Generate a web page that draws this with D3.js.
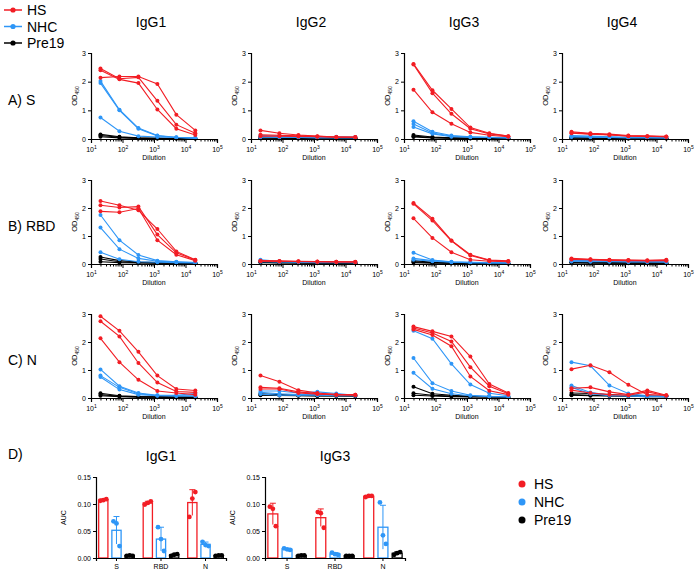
<!DOCTYPE html>
<html>
<head>
<meta charset="utf-8">
<script src="https://cdn.jsdelivr.net/npm/d3@7"></script>
<style>
  body { margin: 0; background: #fff; }
  svg { font-family: "Liberation Sans", Arial, Helvetica, sans-serif; }
</style>
</head>
<body>
<svg id="chart" width="700" height="579"></svg>
<script>
// dilution series (4-fold)
var dilutions = [20, 80, 320, 1280, 5120, 20480];
var isotypes = ["IgG1", "IgG2", "IgG3", "IgG4"];
var antigens = ["S", "RBD", "N"];
var rowLabels = ["A) S", "B) RBD", "C) N"];
var groups = ["HS", "NHC", "Pre19"];
var colors = ["#f21d24", "#2e96f7", "#000000"];

// OD450 curves, per panel: [HS lines, NHC lines, Pre19 lines]
var S_IgG1 = [
  [[2.14, 2.18, 2.18, 1.92, 0.85, 0.30], [2.46, 2.10, 2.15, 1.33, 0.50, 0.20], [2.40, 2.08, 1.95, 1.03, 0.36, 0.14]],
  [[2.02, 1.02, 0.38, 0.12, 0.06, 0.04], [1.95, 1.00, 0.36, 0.11, 0.05, 0.03], [0.75, 0.27, 0.10, 0.07, 0.05, 0.03]],
  [[0.16, 0.08, 0.04, 0.03, 0.02, 0.02], [0.12, 0.06, 0.03, 0.02, 0.02, 0.02], [0.08, 0.04, 0.02, 0.02, 0.02, 0.02]]
];
var S_IgG2 = [
  [[0.30, 0.20, 0.14, 0.10, 0.07, 0.07], [0.15, 0.13, 0.11, 0.09, 0.07, 0.06], [0.10, 0.10, 0.09, 0.08, 0.06, 0.06]],
  [[0.12, 0.10, 0.08, 0.07, 0.08, 0.07], [0.08, 0.07, 0.06, 0.05, 0.05, 0.05], [0.06, 0.05, 0.05, 0.04, 0.04, 0.04]],
  [[0.06, 0.04, 0.03, 0.03, 0.03, 0.03], [0.04, 0.03, 0.03, 0.02, 0.02, 0.02], [0.03, 0.03, 0.02, 0.02, 0.02, 0.02]]
];
var S_IgG3 = [
  [[2.62, 1.70, 1.05, 0.40, 0.20, 0.10], [2.60, 1.60, 0.88, 0.36, 0.18, 0.10], [1.72, 0.93, 0.53, 0.23, 0.13, 0.08]],
  [[0.62, 0.25, 0.12, 0.08, 0.06, 0.05], [0.52, 0.21, 0.10, 0.07, 0.05, 0.04], [0.42, 0.18, 0.08, 0.06, 0.05, 0.04]],
  [[0.14, 0.07, 0.04, 0.03, 0.03, 0.02], [0.10, 0.05, 0.03, 0.03, 0.02, 0.02], [0.07, 0.04, 0.03, 0.02, 0.02, 0.02]]
];
var S_IgG4 = [
  [[0.25, 0.20, 0.17, 0.12, 0.10, 0.09], [0.22, 0.18, 0.15, 0.10, 0.09, 0.08], [0.20, 0.17, 0.14, 0.11, 0.10, 0.08]],
  [[0.12, 0.10, 0.08, 0.06, 0.05, 0.05], [0.09, 0.08, 0.06, 0.05, 0.05, 0.04], [0.07, 0.06, 0.05, 0.04, 0.04, 0.04]],
  [[0.05, 0.04, 0.03, 0.03, 0.03, 0.03], [0.04, 0.03, 0.03, 0.02, 0.02, 0.02], [0.03, 0.03, 0.02, 0.02, 0.02, 0.02]]
];
var RBD_IgG1 = [
  [[2.25, 2.10, 1.92, 1.25, 0.45, 0.15], [2.10, 2.02, 2.05, 1.05, 0.40, 0.14], [1.88, 1.85, 1.98, 0.85, 0.33, 0.12]],
  [[1.75, 0.85, 0.32, 0.12, 0.08, 0.05], [1.30, 0.53, 0.20, 0.10, 0.07, 0.05], [0.42, 0.17, 0.08, 0.06, 0.05, 0.04]],
  [[0.25, 0.12, 0.07, 0.05, 0.04, 0.03], [0.18, 0.08, 0.05, 0.04, 0.03, 0.03], [0.08, 0.05, 0.04, 0.03, 0.03, 0.03]]
];
var RBD_IgG2 = [
  [[0.12, 0.11, 0.10, 0.09, 0.08, 0.08], [0.11, 0.10, 0.09, 0.08, 0.08, 0.07], [0.10, 0.09, 0.09, 0.08, 0.07, 0.07]],
  [[0.15, 0.10, 0.08, 0.07, 0.06, 0.06], [0.10, 0.08, 0.07, 0.06, 0.06, 0.05], [0.08, 0.07, 0.06, 0.05, 0.05, 0.05]],
  [[0.08, 0.06, 0.05, 0.04, 0.04, 0.04], [0.06, 0.05, 0.04, 0.04, 0.03, 0.03], [0.05, 0.04, 0.04, 0.03, 0.03, 0.03]]
];
var RBD_IgG3 = [
  [[2.18, 1.62, 0.84, 0.33, 0.14, 0.11], [2.15, 1.55, 0.83, 0.30, 0.13, 0.10], [1.63, 0.93, 0.42, 0.15, 0.10, 0.08]],
  [[0.40, 0.14, 0.08, 0.06, 0.05, 0.04], [0.20, 0.12, 0.07, 0.05, 0.05, 0.04], [0.15, 0.10, 0.06, 0.05, 0.04, 0.04]],
  [[0.12, 0.06, 0.04, 0.03, 0.03, 0.03], [0.08, 0.05, 0.03, 0.03, 0.03, 0.02], [0.05, 0.03, 0.03, 0.02, 0.02, 0.02]]
];
var RBD_IgG4 = [
  [[0.20, 0.17, 0.15, 0.14, 0.13, 0.15], [0.18, 0.16, 0.14, 0.13, 0.12, 0.13], [0.16, 0.15, 0.13, 0.12, 0.12, 0.12]],
  [[0.14, 0.12, 0.10, 0.09, 0.09, 0.08], [0.11, 0.10, 0.09, 0.08, 0.08, 0.07], [0.09, 0.08, 0.08, 0.07, 0.07, 0.07]],
  [[0.06, 0.05, 0.05, 0.04, 0.04, 0.04], [0.05, 0.04, 0.04, 0.04, 0.03, 0.03], [0.04, 0.04, 0.03, 0.03, 0.03, 0.03]]
];
var N_IgG1 = [
  [[2.92, 2.40, 1.65, 0.80, 0.32, 0.27], [2.74, 2.20, 1.25, 0.55, 0.23, 0.20], [2.13, 1.28, 0.65, 0.25, 0.18, 0.12]],
  [[1.02, 0.42, 0.18, 0.10, 0.10, 0.16], [0.80, 0.38, 0.15, 0.09, 0.08, 0.08], [0.75, 0.30, 0.12, 0.08, 0.07, 0.06]],
  [[0.17, 0.08, 0.05, 0.04, 0.03, 0.03], [0.12, 0.06, 0.04, 0.03, 0.03, 0.03], [0.08, 0.05, 0.03, 0.03, 0.02, 0.02]]
];
var N_IgG2 = [
  [[0.80, 0.58, 0.28, 0.18, 0.12, 0.12], [0.38, 0.35, 0.22, 0.15, 0.12, 0.12], [0.32, 0.32, 0.18, 0.14, 0.12, 0.10]],
  [[0.25, 0.25, 0.18, 0.22, 0.16, 0.10], [0.20, 0.15, 0.12, 0.12, 0.10, 0.10], [0.14, 0.10, 0.10, 0.10, 0.08, 0.08]],
  [[0.15, 0.12, 0.10, 0.09, 0.08, 0.08], [0.12, 0.10, 0.09, 0.08, 0.08, 0.07], [0.10, 0.09, 0.08, 0.07, 0.07, 0.07]]
];
var N_IgG3 = [
  [[2.55, 2.38, 2.20, 1.48, 0.50, 0.18], [2.50, 2.32, 2.02, 1.10, 0.42, 0.15], [2.45, 2.25, 1.85, 0.77, 0.26, 0.12]],
  [[2.40, 2.12, 1.22, 0.48, 0.17, 0.08], [1.43, 0.53, 0.25, 0.10, 0.06, 0.05], [0.90, 0.33, 0.15, 0.08, 0.05, 0.04]],
  [[0.40, 0.15, 0.10, 0.06, 0.05, 0.04], [0.17, 0.10, 0.07, 0.05, 0.04, 0.04], [0.10, 0.07, 0.05, 0.04, 0.04, 0.03]]
];
var N_IgG4 = [
  [[1.03, 1.17, 0.92, 0.47, 0.12, 0.10], [0.35, 0.38, 0.22, 0.12, 0.27, 0.10], [0.28, 0.18, 0.12, 0.10, 0.22, 0.08]],
  [[1.28, 1.15, 0.45, 0.16, 0.08, 0.06], [0.45, 0.20, 0.10, 0.08, 0.06, 0.05], [0.38, 0.15, 0.08, 0.07, 0.05, 0.05]],
  [[0.18, 0.16, 0.12, 0.09, 0.07, 0.06], [0.12, 0.10, 0.08, 0.07, 0.06, 0.05], [0.10, 0.08, 0.07, 0.06, 0.05, 0.05]]
];
var panels = [
  [S_IgG1, S_IgG2, S_IgG3, S_IgG4],
  [RBD_IgG1, RBD_IgG2, RBD_IgG3, RBD_IgG4],
  [N_IgG1, N_IgG2, N_IgG3, N_IgG4]
];

// AUC points, [S, RBD, N] for each group
var aucIgG1_HS = [[0.106, 0.107, 0.109], [0.099, 0.102, 0.105], [0.076, 0.110, 0.122]];
var aucIgG1_NHC = [[0.068, 0.064, 0.022], [0.057, 0.035, 0.013], [0.030, 0.024, 0.022]];
var aucIgG1_Pre19 = [[0.004, 0.005, 0.004], [0.004, 0.006, 0.007], [0.004, 0.005, 0.005]];
var aucIgG3_HS = [[0.095, 0.091, 0.059], [0.085, 0.083, 0.056], [0.113, 0.115, 0.115]];
var aucIgG3_NHC = [[0.018, 0.016, 0.015], [0.010, 0.007, 0.006], [0.103, 0.042, 0.026]];
var aucIgG3_Pre19 = [[0.004, 0.005, 0.005], [0.004, 0.004, 0.004], [0.006, 0.009, 0.011]];
var aucTicks = [0, 0.05, 0.10, 0.15];

var svg = d3.select("#chart");

// legend top-left
groups.forEach(function (g, i) {
  var y = 10 + i * 16.5;
  svg.append("line").attr("x1", 4).attr("x2", 22).attr("y1", y).attr("y2", y)
    .attr("stroke", colors[i]).attr("stroke-width", 1.5);
  svg.append("circle").attr("cx", 13).attr("cy", y).attr("r", 2.6).attr("fill", colors[i]);
  svg.append("text").attr("x", 27).attr("y", y + 5).attr("font-size", 14).text(g);
});

var colX = [91, 251, 404, 562];
var panelW = 126;
var rowY = [[53, 139], [180, 264], [314, 398]];

isotypes.forEach(function (iso, c) {
  svg.append("text").attr("x", colX[c] + 60).attr("y", 27).attr("text-anchor", "middle")
    .attr("font-size", 14).text(iso);
});
rowLabels.forEach(function (lab, r) {
  svg.append("text").attr("x", 8).attr("y", (rowY[r][0] + rowY[r][1]) / 2 + 9)
    .attr("font-size", 14).text(lab);
});

var line = d3.line();

panels.forEach(function (row, r) {
  row.forEach(function (panel, c) {
    var x = d3.scaleLog().domain([10, 1e5]).range([colX[c], colX[c] + panelW]);
    var y = d3.scaleLinear().domain([0, 3]).range([rowY[r][1], rowY[r][0]]);
    var g = svg.append("g");

    // data, Pre19 drawn first so HS is on top
    [2, 1, 0].forEach(function (gi) {
      panel[gi].forEach(function (vals) {
        var pts = vals.map(function (v, k) { return [x(dilutions[k]), y(v)]; });
        g.append("path").attr("d", line(pts)).attr("fill", "none")
          .attr("stroke", colors[gi]).attr("stroke-width", 1.1);
        g.selectAll(null).data(pts).enter().append("circle")
          .attr("cx", function (d) { return d[0]; })
          .attr("cy", function (d) { return d[1]; })
          .attr("r", 2).attr("fill", colors[gi]);
      });
    });

    // y axis
    var ya = g.append("g").attr("transform", "translate(" + colX[c] + ",0)")
      .call(d3.axisLeft(y).tickValues([0, 1, 2, 3]).tickFormat(d3.format("d")).tickSize(3).tickPadding(2));
    // x axis with log minor ticks
    var minor = [];
    for (var e = 1; e < 5; e++) for (var m = 2; m <= 9; m++) minor.push(m * Math.pow(10, e));
    var xg = g.append("g").attr("transform", "translate(0," + rowY[r][1] + ")");
    xg.call(d3.axisBottom(x).tickValues(minor).tickSize(2.5).tickFormat(""));
    var xa = g.append("g").attr("transform", "translate(0," + rowY[r][1] + ")")
      .call(d3.axisBottom(x).tickValues([10, 100, 1000, 1e4, 1e5]).tickSize(4).tickPadding(3).tickFormat(""));
    xa.selectAll(".tick").append("text").attr("y", 13).attr("fill", "#000")
      .attr("text-anchor", "middle").attr("font-size", 7)
      .each(function (d) {
        var t = d3.select(this);
        t.append("tspan").text("10");
        t.append("tspan").attr("dy", -3).attr("font-size", 5).text(Math.round(Math.log10(d)));
      });
    [ya, xg, xa].forEach(function (a) {
      a.select(".domain").attr("stroke", "#000").attr("stroke-width", 1.2);
      a.selectAll(".tick line").attr("stroke", "#000").attr("stroke-width", 1);
      a.selectAll("text").attr("font-size", 7).attr("font-family", "Liberation Sans, Arial, sans-serif");
    });
    xa.selectAll(".tick text tspan:last-child").attr("font-size", 5);
    xg.select(".domain").remove();

    // labels
    g.append("text").attr("x", colX[c] + panelW / 2).attr("y", rowY[r][1] + 21)
      .attr("text-anchor", "middle").attr("font-size", 7).text("Dilution");
    var yl = g.append("text").attr("transform", "translate(" + (colX[c] - 14) + "," + ((rowY[r][0] + rowY[r][1]) / 2) + ") rotate(-90)")
      .attr("text-anchor", "middle").attr("font-size", 7.5);
    yl.append("tspan").text("OD");
    yl.append("tspan").attr("dy", 2).attr("font-size", 5).text("450");
  });
});

// D) AUC bar charts
svg.append("text").attr("x", 8).attr("y", 459).attr("font-size", 14).text("D)");

function barChart(title, x0, x1, hs, nhc, pre) {
  var sets = [hs, nhc, pre];
  var y = d3.scaleLinear().domain([0, 0.15]).range([558, 477]);
  var xb = d3.scaleBand().domain(antigens).range([x0, x1]).paddingInner(0.2).paddingOuter(0.06);
  var xi = d3.scaleBand().domain(groups).range([0, xb.bandwidth()]).paddingInner(0.3);
  var g = svg.append("g");

  svg.append("text").attr("x", (x0 + x1) / 2).attr("y", 461).attr("text-anchor", "middle")
    .attr("font-size", 14).text(title);

  antigens.forEach(function (a, ai) {
    groups.forEach(function (gr, gi) {
      var pts = sets[gi][ai];
      var mean = d3.mean(pts), sd = d3.deviation(pts);
      var bx = xb(a) + xi(gr), bw = xi.bandwidth(), cx = bx + bw / 2;
      g.append("rect").attr("x", bx).attr("y", y(mean)).attr("width", bw)
        .attr("height", y(0) - y(mean)).attr("fill", "#fff")
        .attr("stroke", colors[gi]).attr("stroke-width", 1.3);
      g.append("line").attr("x1", cx).attr("x2", cx).attr("y1", y(mean - sd)).attr("y2", y(mean + sd))
        .attr("stroke", colors[gi]).attr("stroke-width", 1);
      g.append("line").attr("x1", cx - 3).attr("x2", cx + 3).attr("y1", y(mean + sd)).attr("y2", y(mean + sd))
        .attr("stroke", colors[gi]).attr("stroke-width", 1);
      g.selectAll(null).data(pts).enter().append("circle")
        .attr("cx", function (d, k) { return cx + (k - 1) * 3; })
        .attr("cy", function (d) { return y(d); })
        .attr("r", 2.4).attr("fill", colors[gi]);
    });
  });

  var ya = g.append("g").attr("transform", "translate(" + x0 + ",0)")
    .call(d3.axisLeft(y).tickValues(aucTicks).tickFormat(d3.format(".2f")).tickSize(3).tickPadding(2));
  var xa = g.append("g").attr("transform", "translate(0," + y(0) + ")")
    .call(d3.axisBottom(xb).tickSize(3).tickPadding(3));
  [ya, xa].forEach(function (a) {
    a.select(".domain").attr("stroke", "#000").attr("stroke-width", 1.2);
    a.selectAll(".tick line").attr("stroke", "#000");
    a.selectAll("text").attr("font-size", 7).attr("font-family", "Liberation Sans, Arial, sans-serif");
  });
  g.append("text").attr("transform", "translate(" + (x0 - 30) + "," + ((477 + 558) / 2) + ") rotate(-90)")
    .attr("text-anchor", "middle").attr("font-size", 7).text("AUC");
}

barChart("IgG1", 96, 226, aucIgG1_HS, aucIgG1_NHC, aucIgG1_Pre19);
barChart("IgG3", 265, 405, aucIgG3_HS, aucIgG3_NHC, aucIgG3_Pre19);

// bottom legend
groups.forEach(function (g, i) {
  var y = 484 + i * 18;
  svg.append("circle").attr("cx", 522).attr("cy", y).attr("r", 3.5).attr("fill", colors[i]);
  svg.append("text").attr("x", 534).attr("y", y + 5).attr("font-size", 14).text(g);
});
</script>
</body>
</html>
